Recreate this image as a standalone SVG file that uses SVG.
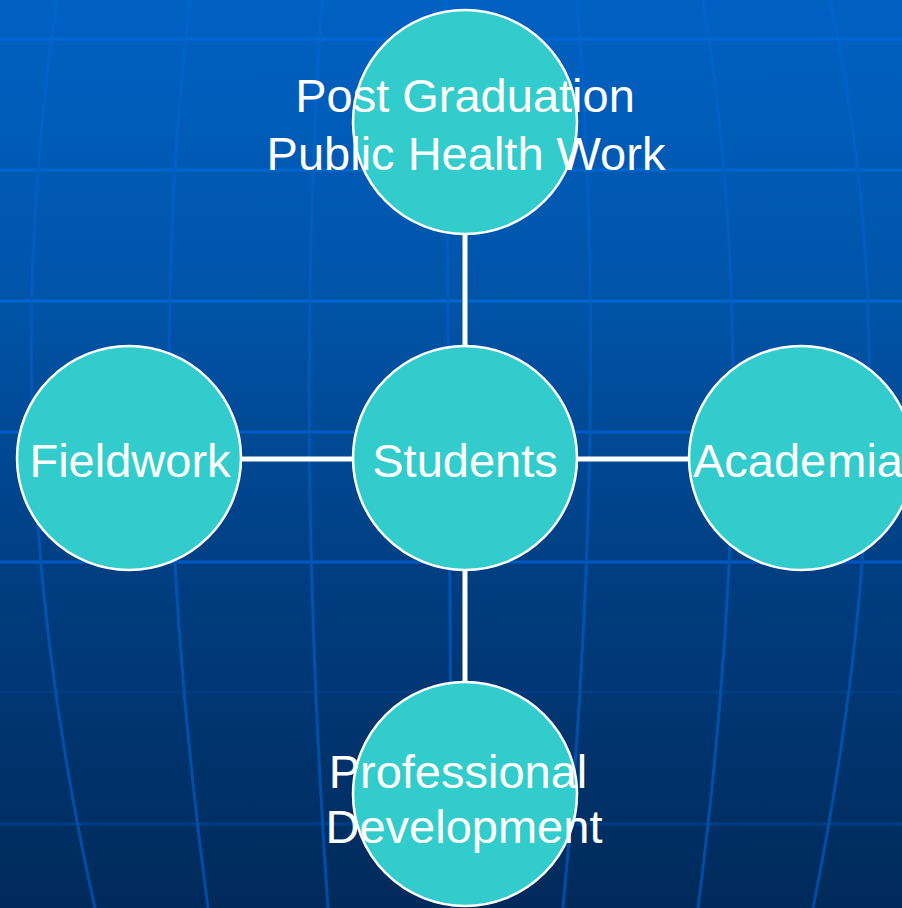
<svg xmlns="http://www.w3.org/2000/svg" width="902" height="908" viewBox="0 0 902 908">
  <defs>
    <linearGradient id="bg" x1="0" y1="0" x2="0" y2="908" gradientUnits="userSpaceOnUse">
      <stop offset="0" stop-color="#0061c3"/>
      <stop offset="0.33" stop-color="#0054a8"/>
      <stop offset="0.66" stop-color="#003c7e"/>
      <stop offset="1" stop-color="#002a5a"/>
    </linearGradient>
    <linearGradient id="mer" x1="0" y1="0" x2="0" y2="908" gradientUnits="userSpaceOnUse">
      <stop offset="0" stop-color="#0065cc"/>
      <stop offset="0.5" stop-color="#0056b6"/>
      <stop offset="1" stop-color="#004ca4"/>
    </linearGradient>
    <style>
      .mer { fill: none; stroke: url(#mer); stroke-width: 3; }
      .par { stroke-width: 3; }
      .node circle { fill: #33cccc; stroke: #ffffff; stroke-width: 2.5; }
      .node text { fill: #ffffff; font-family: "Liberation Sans", Arial, sans-serif; font-size: 47px; text-anchor: middle; }
      .conn line { stroke: #ffffff; stroke-width: 5; }
    </style>
  </defs>

  <!-- background -->
  <rect x="0" y="0" width="902" height="908" fill="url(#bg)"/>
  <g id="grid">
    <line class="par" x1="0" y1="39" x2="902" y2="39" stroke="#0068d4"/>
    <line class="par" x1="0" y1="170" x2="902" y2="170" stroke="#0066d0"/>
    <line class="par" x1="0" y1="301" x2="902" y2="301" stroke="#0066d0"/>
    <line class="par" x1="0" y1="432" x2="902" y2="432" stroke="#005ccc"/>
    <line class="par" x1="0" y1="562" x2="902" y2="562" stroke="#0058c4"/>
    <line class="par" x1="0" y1="692" x2="902" y2="692" stroke="#003d82"/>
    <line class="par" x1="0" y1="824" x2="902" y2="824" stroke="#003f84"/>
    <path class="mer" d="M57,0 C20,250 15,550 95,908"/>
    <path class="mer" d="M190,0 C160,250 160,550 208,908"/>
    <path class="mer" d="M322,0 C305,250 303,550 328,908"/>
    <path class="mer" d="M446,0 C446,300 450,600 452,908"/>
    <path class="mer" d="M577,0 C597,250 597,550 563,908"/>
    <path class="mer" d="M703,0 C744,250 744,550 698,908"/>
    <path class="mer" d="M830,0 C885,250 885,550 813,908"/>
  </g>

  <g id="connectors" class="conn">
    <line x1="465" y1="234" x2="465" y2="346"/>
    <line x1="465" y1="570" x2="465" y2="682"/>
    <line x1="240" y1="459" x2="353" y2="459"/>
    <line x1="577" y1="459" x2="689" y2="459"/>
  </g>

  <g id="node-post-graduation" class="node">
    <circle cx="465" cy="122" r="112"/>
    <text x="465" y="112">Post Graduation</text>
    <text x="466" y="170">Public Health Work</text>
  </g>

  <g id="node-students" class="node">
    <circle cx="465" cy="458" r="112"/>
    <text x="465" y="477">Students</text>
  </g>

  <g id="node-fieldwork" class="node">
    <circle cx="129" cy="458" r="112"/>
    <text x="130" y="477">Fieldwork</text>
  </g>

  <g id="node-academia" class="node">
    <circle cx="801" cy="458" r="112"/>
    <text x="798" y="477">Acade<tspan dx="1">mia</tspan></text>
  </g>

  <g id="node-professional-development" class="node">
    <circle cx="465" cy="794" r="112"/>
    <text x="458" y="788">Professional</text>
    <text x="464" y="843">Development</text>
  </g>
</svg>
